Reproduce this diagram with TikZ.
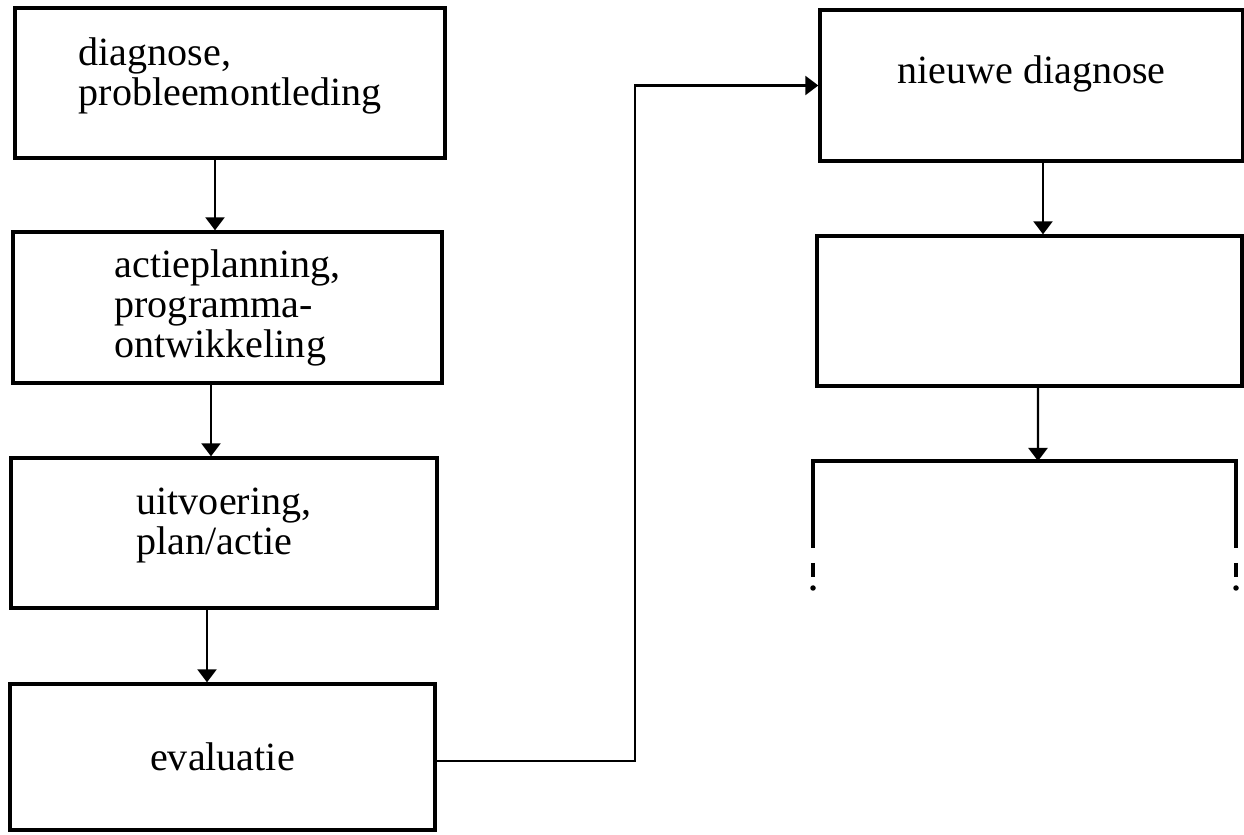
\documentclass[tikz,border=0pt]{standalone}
\usepackage{fontspec}
\setmainfont{Liberation Serif}
\usetikzlibrary{arrows.meta,positioning,calc}

\begin{document}
\begin{tikzpicture}[
    blok/.style={draw, line width=1.9pt, align=left, inner sep=0pt,
      font=\fontsize{22.8}{22.8}\selectfont},
    pijl/.style={line width=1.3pt, -{Triangle[length=2.6mm,width=3.8mm]}},
    open/.style={line width=2.4pt}
  ]
    \useasboundingbox (0,0) rectangle (24.88,16.68);
    % linker kolom
    \node[blok, minimum width=8.60cm, minimum height=3.00cm, text depth=4.6mm] (d1) at (4.60,15.02) {diagnose,\\probleemontleding};
    \node[blok, minimum width=8.58cm, minimum height=3.02cm] (d2) at (4.55,10.53) {actieplanning,\\programma-\\ontwikkeling};
    \node[blok, minimum width=8.52cm, minimum height=3.00cm, text depth=4.6mm] (d3) at (4.48,6.02) {uitvoering,\\plan/actie};
    \node[blok, minimum width=8.50cm, minimum height=2.92cm] (d4) at (4.45,1.54) {evaluatie};
    % rechter kolom
    \node[blok, minimum width=8.46cm, minimum height=3.02cm, text depth=6.2mm] (n1) at (20.63,14.97) {nieuwe diagnose};
    \node[blok, minimum width=8.50cm, minimum height=3.00cm] (n2) at (20.59,10.46) {};
    \coordinate (n3l) at (16.26,5.72);
    \coordinate (n3r) at (24.72,5.72);
    \coordinate (n3) at (20.76,7.46);
    \draw[open] (n3l) |- (n3) -| (n3r);
    \draw[open] ([yshift=-3mm]n3l) -- ++(0,-0.28);
    \draw[open] ([yshift=-3mm]n3r) -- ++(0,-0.28);
    \fill ([yshift=-8mm]n3l) circle (0.055);
    \fill ([yshift=-8mm]n3r) circle (0.055);
    % pijlen
    \draw[pijl] ([xshift=-3.0mm]d1.south) -- ([xshift=-3.0mm]d1.south |- d2.north);
    \draw[pijl] ([xshift=-3.3mm]d2.south) -- ([xshift=-3.3mm]d2.south |- d3.north);
    \draw[pijl] ([xshift=-3.4mm]d3.south) -- ([xshift=-3.4mm]d3.south |- d4.north);
    \draw[pijl] ([yshift=-0.8mm]d4.east) -- ++(3.96,0) |- (n1.west);
    \draw[pijl] ([xshift=2.3mm]n1.south) -- ([xshift=2.3mm]n1.south |- n2.north);
    \draw[pijl] ([xshift=1.7mm]n2.south) -- (n3);
  \end{tikzpicture}
\end{document}
